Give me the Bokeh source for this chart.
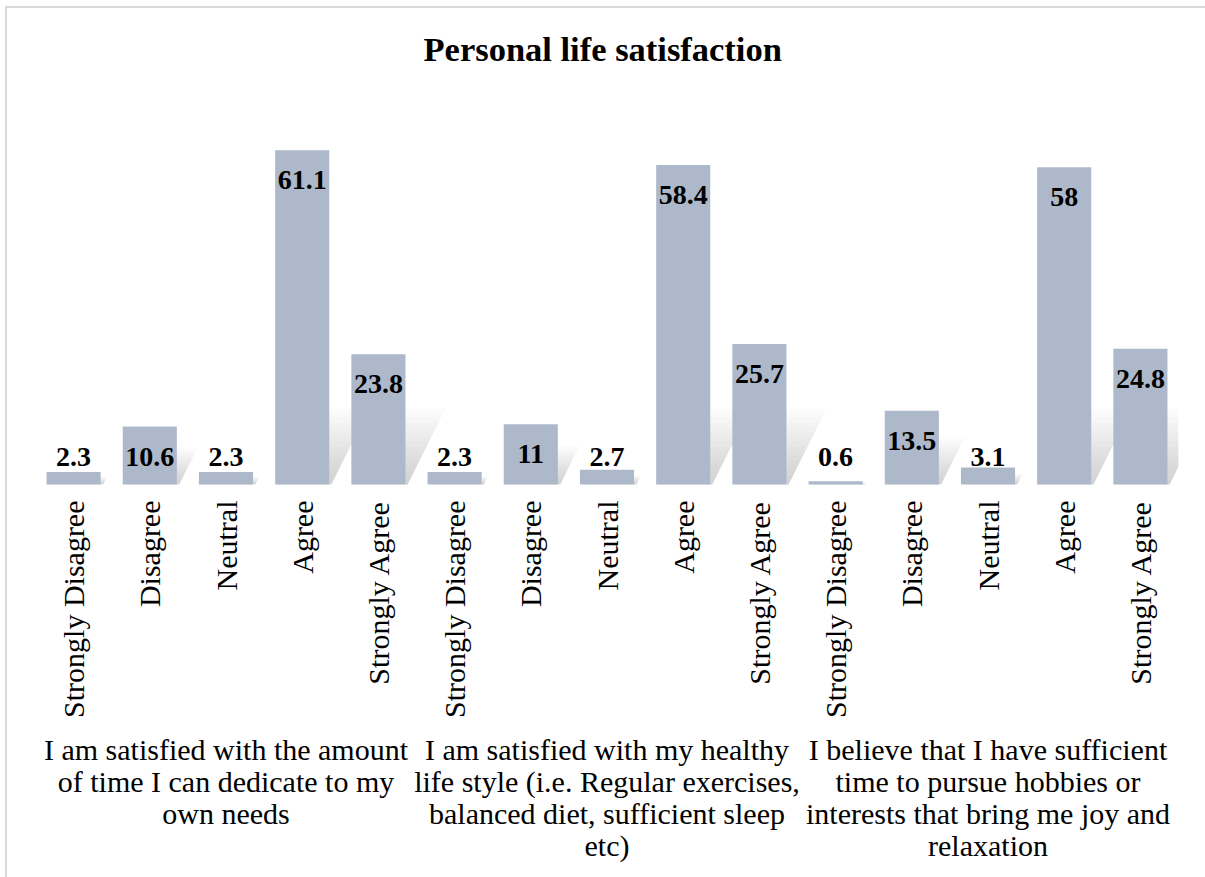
from bokeh.plotting import figure
from bokeh.models import FactorRange, Range1d, ColumnDataSource
from bokeh.core.properties import value
from bokeh.embed import file_html
from bokeh.resources import INLINE

title = "Personal  life satisfaction"
group_labels = [
    "I am satisfied with the amount\nof time I can dedicate to my\nown needs",
    "I am satisfied with my healthy\nlife style (i.e. Regular exercises,\nbalanced diet, sufficient sleep\netc)",
    "I believe that I have sufficient\ntime to pursue hobbies or\ninterests that bring me joy and\nrelaxation",
]
categories = ["Strongly Disagree", "Disagree", "Neutral", "Agree", "Strongly Agree"]
own_needs = [2.3, 10.6, 2.3, 61.1, 23.8]
healthy_life = [2.3, 11, 2.7, 58.4, 25.7]
hobbies = [0.6, 13.5, 3.1, 58, 24.8]
series = [own_needs, healthy_life, hobbies]

BAR = "#ADB9CA"
FONT = value("Liberation Serif")
PX = 5.47            # pixels per percentage point
W, H = 1205, 877
ML, MR = 35, 27
BASE = 484           # baseline position from top of canvas
MIN_LABEL = 10.6     # labels of short bars sit at this level
BAR_W = 0.71
SHADOW_CAP = 14.0    # max shadow height (in value units)

factors = [(g, c) for g in group_labels for c in categories]
vals = [v for s in series for v in s]
src = ColumnDataSource(dict(
    x=factors,
    top=vals,
    lab=[f"{v:g}" for v in vals],
    laby=[max(v, MIN_LABEL) for v in vals],
    cat=[c for g in group_labels for c in categories],
))

p = figure(
    x_range=FactorRange(factors=factors, factor_padding=0, group_padding=0, range_padding=0),
    y_range=Range1d(-(H - BASE) / PX, BASE / PX),
    width=W, height=H, output_backend="svg", toolbar_location=None,
    x_axis_location=None, y_axis_location=None,
    min_border_left=ML, min_border_right=MR, min_border_top=0, min_border_bottom=0,
)
p.grid.visible = False
p.outline_line_color = None
p.background_fill_color = None
p.border_fill_color = None
# chart-area border: light grey lines on the left and top (drawn as CSS background)
p.styles = {
    "overflow": "hidden",
    "background-color": "white",
    "background-image": "linear-gradient(#d9d9d9, #d9d9d9), linear-gradient(#d9d9d9, #d9d9d9)",
    "background-position": "5px 6px, 5px 6px",
    "background-size": "2px 100%, 100% 2px",
    "background-repeat": "no-repeat, no-repeat",
}

# soft perspective shadows (drawn behind the bars), derived from bar values
xpx = (W - ML - MR) / len(factors)
N = 16
sxs, sys_ = [], []
for i, v in enumerate(vals):
    c = i + 0.5
    hh = min(0.64 * v, SHADOW_CAP)
    for k in range(1, N + 1):
        f = k / N
        dy = hh * f
        dx = 0.5 * hh * PX * f / xpx
        sxs.append([c - BAR_W / 2 + 0.05, c + BAR_W / 2 + 0.03, c + BAR_W / 2 + 0.03 + dx, c - BAR_W / 2 + 0.05 + dx])
        sys_.append([0, 0, dy, dy])
p.patches(xs=sxs, ys=sys_, fill_color="#808080", fill_alpha=0.026, line_color=None)

p.vbar(x="x", top="top", width=BAR_W, bottom=0, source=src, fill_color=BAR, line_color=None)

p.text(x="x", y="laby", text="lab", source=src, text_font=FONT, text_font_style="bold",
       text_font_size="28px", text_align="center", text_baseline="top", y_offset=21,
       text_color="black")

p.text(x="x", y=0, text="cat", source=src, text_font=FONT, text_font_size="30px",
       text_align="right", text_baseline="middle", angle=1.5708, y_offset=16, text_color="black")

gsrc = ColumnDataSource(dict(x=[(g, categories[2]) for g in group_labels], t=group_labels))
p.text(x="x", y=0, text="t", source=gsrc, text_font=FONT, text_font_size="30px",
       text_align="center", text_baseline="top", y_offset=248, text_line_height=0.97,
       text_color="black")

tsrc = ColumnDataSource(dict(x=[(group_labels[1], categories[2])], t=[title]))
p.text(x="x", y=BASE / PX, text="t", source=tsrc, text_font=FONT, text_font_style="bold",
       text_font_size="34.5px", text_align="center", text_baseline="middle", y_offset=48,
       text_color="black")

open("out.html", "w").write(file_html(p, INLINE))
